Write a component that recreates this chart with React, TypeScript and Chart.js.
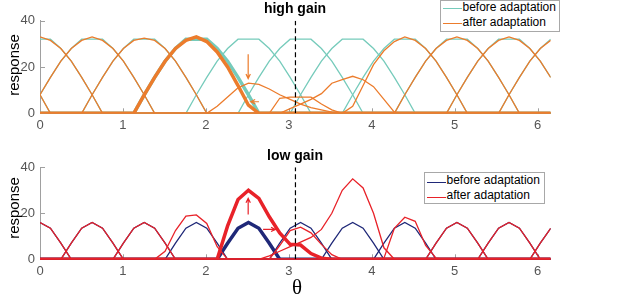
import React, { useEffect, useRef } from 'react';
import { Chart, registerables } from 'chart.js';

Chart.register(...registerables);

// ---- sampling grid (orientation theta, 50 samples over one period) ----
const N_SAMPLES = 50;
const theta = Array.from({ length: N_SAMPLES }, (_, i) => (i * 2 * Math.PI) / N_SAMPLES);
const xTicks = [0, 1, 2, 3, 4, 5, 6];
const yTicks = [0, 20, 40];
const adapterTheta = 3.08;
// preferred orientation of each neuron, as sample index
const neuronCenters = [0, 5, 10, 15, 20, 25, 30, 35, 40, 45];
const highlighted = 3; // neuron drawn thick in top panel
const highlightedLow = 4; // neuron drawn thick in bottom panel

// ---- high gain ----
const highBeforeProfile = [0, 8, 15.5, 22.5, 28, 32, 32, 32, 28, 22.5, 15.5, 8, 0];
const highBeforeStart = -6;
const highAfterProfiles = [
  [0, 8, 15.5, 22.5, 28, 31.5, 33, 31.5, 28, 22.5, 15.5, 8, 0],
  [0, 8, 15.5, 22.5, 28, 31.5, 33, 31.5, 28, 22.5, 15.5, 8, 0],
  [0, 8, 15.5, 22.5, 28, 31.5, 32.5, 31.5, 28, 22.5, 15.5, 8, 0],
  [0, 8, 15.5, 22.5, 28, 31.5, 33, 31, 26.5, 20, 12, 3.5, 0],
  [0, 3, 7, 11, 13, 12.5, 10.5, 8, 6, 4, 2.5, 1.5, 0.5, 0],
  [0, 6.5, 7, 7, 7, 4, 1.5, 0],
  [0, 2, 4, 6, 8.5, 13, 14.5, 16, 14.5, 11.5, 6, 0.5, 0],
  [0, 3, 12, 21, 27, 31, 33, 31.5, 28, 22.5, 15.5, 8, 0],
  [0, 8, 15.5, 22.5, 28, 31.5, 33, 31.5, 28, 22.5, 15.5, 8, 0],
  [0, 8, 15.5, 22.5, 28, 31.5, 33, 31.5, 28, 22.5, 15.5, 8, 0],
];
const highAfterStarts = [-6, -6, -6, -6, -4, -3, -7, -6, -6, -6];

// ---- low gain ----
const lowBeforeProfile = [0, 7, 13.5, 16, 13.5, 7, 0];
const lowBeforeStart = -3;
const lowAfterProfiles = [
  [0, 7, 13.5, 16, 13.5, 7, 0],
  [0, 7, 13.5, 16, 13.5, 7, 0],
  [0, 7, 13.5, 16, 13.5, 7, 0],
  [0, 3.5, 12.5, 18.8, 19.3, 15.6, 5.5, 0],
  [0, 14.5, 26, 30, 26.5, 18.5, 11.5, 6.5, 6.2, 2.5, 0.5, 0],
  [0, 6, 12.5, 14, 11.5, 6.5, 2, 0],
  [0, 1.5, 3.5, 5.5, 7.5, 9.5, 13, 20, 30, 35, 31, 20, 5, 0],
  [0, 0.5, 13.5, 18.3, 16.5, 6, 0.5, 0],
  [0, 7, 13.5, 16, 13.5, 7, 0],
  [0, 7, 13.5, 16, 13.5, 7, 0],
];
const lowAfterStarts = [-3, -3, -3, -4, -3, -3, -9, -3, -3, -3];

// arrows [x1, y1, x2, y2] in data units (head at x2,y2)
const highGainArrows = [
  [2.51, 25.5, 2.51, 15],
  [2.64, 5, 2.54, 5],
];
const lowGainArrows = [
  [2.51, 19.5, 2.51, 26.5],
  [2.69, 13, 2.84, 13],
];

const TEAL = '#76cbbb';
const ORANGE = '#ec7c2c';
const NAVY = '#1f2878';
const RED = '#e82229';
const AXIS = '#a0a0a0';
const SANS = '"Liberation Sans", Arial, Helvetica, sans-serif';

function placeProfile(center: number, start: number, values: number[]) {
  const ys = new Array(N_SAMPLES).fill(0);
  values.forEach((v, k) => {
    const idx = (((center + start + k) % N_SAMPLES) + N_SAMPLES) % N_SAMPLES;
    ys[idx] = v;
  });
  return theta.map((x, i) => ({ x, y: ys[i] }));
}

const decorPlugin = {
  id: 'decor',
  beforeDatasetsDraw(chart: any) {
    const { ctx, chartArea, scales } = chart;
    ctx.save();
    ctx.strokeStyle = AXIS;
    ctx.lineWidth = 1;
    yTicks.forEach((v) => {
      const py = Math.round(scales.y.getPixelForValue(v)) + 0.5;
      ctx.beginPath();
      ctx.moveTo(chartArea.left, py);
      ctx.lineTo(chartArea.left + 5, py);
      ctx.stroke();
    });
    xTicks.forEach((v) => {
      const px = Math.round(scales.x.getPixelForValue(v)) + 0.5;
      ctx.beginPath();
      ctx.moveTo(px, chartArea.bottom);
      ctx.lineTo(px, chartArea.bottom - 5);
      ctx.stroke();
    });
    ctx.restore();
  },
  afterDatasetsDraw(chart: any, _args: any, opts: any) {
    const { ctx, scales } = chart;
    const arrows: number[][] = opts.arrows || [];
    ctx.save();
    ctx.strokeStyle = opts.color;
    ctx.lineWidth = 1.2;
    arrows.forEach(([x1, y1, x2, y2]) => {
      const p1x = scales.x.getPixelForValue(x1);
      const p1y = scales.y.getPixelForValue(y1);
      const p2x = scales.x.getPixelForValue(x2);
      const p2y = scales.y.getPixelForValue(y2);
      const ang = Math.atan2(p2y - p1y, p2x - p1x);
      const h = 5;
      ctx.beginPath();
      ctx.moveTo(p1x, p1y);
      ctx.lineTo(p2x, p2y);
      ctx.moveTo(p2x - h * Math.cos(ang - 0.45), p2y - h * Math.sin(ang - 0.45));
      ctx.lineTo(p2x, p2y);
      ctx.lineTo(p2x - h * Math.cos(ang + 0.45), p2y - h * Math.sin(ang + 0.45));
      ctx.stroke();
    });
    ctx.restore();
  },
};

function buildDatasets(
  beforeProfile: number[],
  beforeStart: number,
  afterProfiles: number[][],
  afterStarts: number[],
  thick: number,
  beforeColor: string,
  afterColor: string
) {
  const ds: any[] = [];
  ds.push({
    data: [
      { x: adapterTheta, y: 0 },
      { x: adapterTheta, y: 40 },
    ],
    borderColor: '#000',
    borderWidth: 1.2,
    borderDash: [5, 3],
    order: 0,
  });
  ds.push({
    data: placeProfile(neuronCenters[thick], afterStarts[thick], afterProfiles[thick]),
    borderColor: afterColor,
    borderWidth: 3.5,
    order: 1,
  });
  neuronCenters.forEach((c, n) => {
    if (n === thick) return;
    ds.push({
      data: placeProfile(c, afterStarts[n], afterProfiles[n]),
      borderColor: afterColor,
      borderWidth: 1.3,
      order: 2,
    });
  });
  ds.push({
    data: placeProfile(neuronCenters[thick], beforeStart, beforeProfile),
    borderColor: beforeColor,
    borderWidth: 3.5,
    order: 3,
  });
  neuronCenters.forEach((c, n) => {
    if (n === thick) return;
    ds.push({
      data: placeProfile(c, beforeStart, beforeProfile),
      borderColor: beforeColor,
      borderWidth: 1.3,
      order: 4,
    });
  });
  return ds;
}

function makeOptions(topPad: number, xAxisHeight: number, arrows: number[][], arrowColor: string) {
  return {
    responsive: false,
    animation: false,
    events: [],
    layout: { padding: { left: 0, right: 66.3, top: topPad, bottom: 0 } },
    plugins: {
      legend: { display: false },
      tooltip: { enabled: false },
      title: { display: false },
      decor: { arrows, color: arrowColor },
    },
    elements: { point: { radius: 0 }, line: { tension: 0, borderCapStyle: 'butt' } },
    scales: {
      x: {
        type: 'linear',
        min: 0,
        max: theta[N_SAMPLES - 1],
        grid: { display: false, drawTicks: false },
        border: { display: true, color: AXIS, width: 1 },
        ticks: {
          stepSize: 1,
          includeBounds: false,
          padding: 4,
          color: '#555',
          maxRotation: 0,
          autoSkip: false,
          font: { family: SANS, size: 13 },
        },
        afterFit: (s: any) => {
          s.height = xAxisHeight;
        },
      },
      y: {
        type: 'linear',
        min: 0,
        max: 40,
        grid: { display: false, drawTicks: false },
        border: { display: true, color: AXIS, width: 1 },
        ticks: {
          stepSize: 20,
          padding: 5,
          color: '#555',
          font: { family: SANS, size: 13 },
        },
        afterFit: (s: any) => {
          s.width = 40;
        },
      },
    },
  };
}

function PanelChart(props: {
  width: number;
  height: number;
  datasets: any[];
  options: any;
}) {
  const ref = useRef<HTMLCanvasElement | null>(null);
  useEffect(() => {
    if (!ref.current) return;
    const chart = new Chart(ref.current, {
      type: 'line',
      data: { datasets: props.datasets },
      options: props.options,
      plugins: [decorPlugin as any],
    } as any);
    return () => chart.destroy();
  }, []);
  return <canvas ref={ref} width={props.width} height={props.height} style={{ display: 'block' }} />;
}

const textBase: React.CSSProperties = {
  position: 'absolute',
  whiteSpace: 'nowrap',
  fontFamily: SANS,
  color: '#000',
};

function LegendBox(props: { left: number; top: number; width: number; height: number; c1: string; c2: string; y1: number; y2: number }) {
  const { left, top, width, height, c1, c2, y1, y2 } = props;
  return (
    <>
      <div
        style={{
          position: 'absolute',
          left,
          top,
          width,
          height,
          border: '1px solid #a8a8a8',
          background: '#fff',
          boxSizing: 'border-box',
        }}
      />
      <div style={{ position: 'absolute', left: left + 3, top: y1, width: 19, height: 1.3, background: c1 }} />
      <div style={{ position: 'absolute', left: left + 3, top: y2, width: 19, height: 1.3, background: c2 }} />
      <div style={{ ...textBase, left: left + 22.5, top: y1 - 7.2, fontSize: 12, lineHeight: '12px' }}>before adaptation</div>
      <div style={{ ...textBase, left: left + 22.5, top: y2 - 7.2, fontSize: 12, lineHeight: '12px' }}>after adaptation</div>
    </>
  );
}

export default function App() {
  const topDatasets = buildDatasets(
    highBeforeProfile,
    highBeforeStart,
    highAfterProfiles,
    highAfterStarts,
    highlighted,
    TEAL,
    ORANGE
  );
  const bottomDatasets = buildDatasets(
    lowBeforeProfile,
    lowBeforeStart,
    lowAfterProfiles,
    lowAfterStarts,
    highlightedLow,
    NAVY,
    RED
  );
  return (
    <div style={{ position: 'fixed', left: 0, top: 0, width: 617, height: 295, background: '#fff', overflow: 'hidden' }}>
      <div style={{ position: 'absolute', left: 0, top: 0 }}>
        <PanelChart width={617} height={145} datasets={topDatasets} options={makeOptions(20.7, 31.7, highGainArrows, ORANGE)} />
      </div>
      <div style={{ position: 'absolute', left: 0, top: 145 }}>
        <PanelChart width={617} height={150} datasets={bottomDatasets} options={makeOptions(22.3, 35.7, lowGainArrows, RED)} />
      </div>
      <div style={{ ...textBase, left: 295, top: 1.2, fontSize: 14, lineHeight: '14px', fontWeight: 'bold', transform: 'translateX(-50%)' }}>high gain</div>
      <div style={{ ...textBase, left: 295, top: 148, fontSize: 14, lineHeight: '14px', fontWeight: 'bold', transform: 'translateX(-50%)' }}>low gain</div>
      <div style={{ ...textBase, left: 13, top: 65, fontSize: 15, lineHeight: '15px', transform: 'translate(-50%, -50%) rotate(-90deg)' }}>response</div>
      <div style={{ ...textBase, left: 13, top: 208, fontSize: 15, lineHeight: '15px', transform: 'translate(-50%, -50%) rotate(-90deg)' }}>response</div>
      <div style={{ ...textBase, left: 297, top: 277.4, fontSize: 21, lineHeight: '21px', fontFamily: '"Liberation Serif", "Times New Roman", serif', transform: 'translateX(-50%)' }}>θ</div>
      <LegendBox left={440} top={0} width={120} height={32} c1={TEAL} c2={ORANGE} y1={8} y2={23} />
      <LegendBox left={424} top={172} width={121} height={32} c1={NAVY} c2={RED} y1={181.5} y2={196.5} />
    </div>
  );
}
